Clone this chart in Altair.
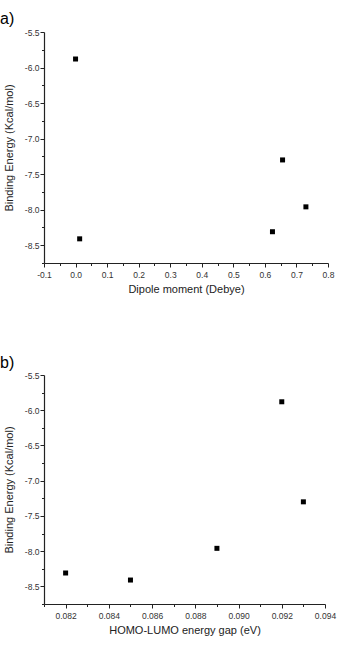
import altair as alt
import pandas as pd

# Panel (a): dipole moment vs binding energy
dipole = [0.0, 0.013, 0.624, 0.656, 0.730]
energy_a = [-5.88, -8.41, -8.31, -7.30, -7.96]

# Panel (b): HOMO-LUMO gap vs binding energy
gap = [0.082, 0.085, 0.089, 0.092, 0.093]
energy_b = [-8.31, -8.41, -7.96, -5.88, -7.30]

# Axis tick values (major + minor)
x_ticks_a = [round(-0.1 + 0.05 * i, 3) for i in range(19)]
x_ticks_b = [round(0.081 + 0.001 * i, 3) for i in range(14)]
y_ticks = [round(-5.5 - 0.25 * i, 3) for i in range(14)]

FONT = "Liberation Sans"

df_a = pd.DataFrame({"x": dipole, "y": energy_a})
df_b = pd.DataFrame({"x": gap, "y": energy_b})


def y_axis():
    return alt.Axis(
        values=y_ticks,
        title="Binding Energy (Kcal/mol)",
        grid=False,
        labelExpr="abs(datum.value*2 - round(datum.value*2)) < 1e-6 ? replace(format(datum.value, '.1f'), '\u2212', '-') : ''",
        tickSize={"condition": {"test": "abs(datum.value*2 - round(datum.value*2)) < 1e-6", "value": 4}, "value": 2.5},
        labelOverlap=False,
        labelFlush=False,
        labelFont=FONT,
        labelFontSize=8.5,
        labelColor="#333333",
        labelPadding=1,
        titleFont=FONT,
        titleFontSize=11,
        titleFontWeight="normal",
        titleColor="#222222",
        titlePadding=10,
        domainColor="#222222",
        tickColor="#222222",
        domainWidth=1.2,
        tickWidth=1,
    )


def x_axis(values, title, major_test, fmt):
    return alt.Axis(
        values=values,
        title=title,
        grid=False,
        labelExpr=f"{major_test} ? replace(format(datum.value, '{fmt}'), '\u2212', '-') : ''",
        tickSize={"condition": {"test": major_test, "value": 4}, "value": 2.5},
        labelOverlap=False,
        labelFlush=False,
        labelFont=FONT,
        labelFontSize=8.5,
        labelColor="#333333",
        labelPadding=3,
        titleFont=FONT,
        titleFontSize=11,
        titleFontWeight="normal",
        titleColor="#222222",
        titlePadding=5,
        domainColor="#222222",
        tickColor="#222222",
        domainWidth=1.2,
        tickWidth=1,
    )


top = (
    alt.Chart(df_a)
    .mark_square(size=25, color="black", opacity=1)
    .encode(
        x=alt.X("x:Q", scale=alt.Scale(domain=[-0.1, 0.8], nice=False, zero=False),
                axis=x_axis(x_ticks_a, "Dipole moment (Debye)",
                            "abs(datum.value*10 - round(datum.value*10)) < 1e-6", ".1f")),
        y=alt.Y("y:Q", scale=alt.Scale(domain=[-8.75, -5.5], nice=False, zero=False), axis=y_axis()),
    )
    .properties(
        width=284,
        height=231,
        title=alt.TitleParams("a)", anchor="start", frame="group", dx=-44, fontSize=16,
                              font=FONT, fontWeight="normal", color="black",
                              baseline="bottom", offset=-15),
    )
)

bottom = (
    alt.Chart(df_b)
    .mark_square(size=25, color="black", opacity=1)
    .encode(
        x=alt.X("x:Q", scale=alt.Scale(domain=[0.081, 0.094], nice=False, zero=False),
                axis=x_axis(x_ticks_b, "HOMO-LUMO energy gap (eV)",
                            "round(datum.value*1000) % 2 == 0", ".3f")),
        y=alt.Y("y:Q", scale=alt.Scale(domain=[-8.75, -5.5], nice=False, zero=False), axis=y_axis()),
    )
    .properties(
        width=281,
        height=229,
        title=alt.TitleParams("b)", anchor="start", frame="group", dx=-44, fontSize=16,
                              font=FONT, fontWeight="normal", color="black",
                              baseline="bottom", offset=-16),
    )
)

chart = (
    alt.vconcat(top, bottom, spacing=60)
    .properties(padding={"left": 0, "top": 11, "right": 5, "bottom": 5}, background="white")
    .configure_view(stroke=None)
)

chart.save("out.html", embed_options={"renderer": "svg", "actions": False})
